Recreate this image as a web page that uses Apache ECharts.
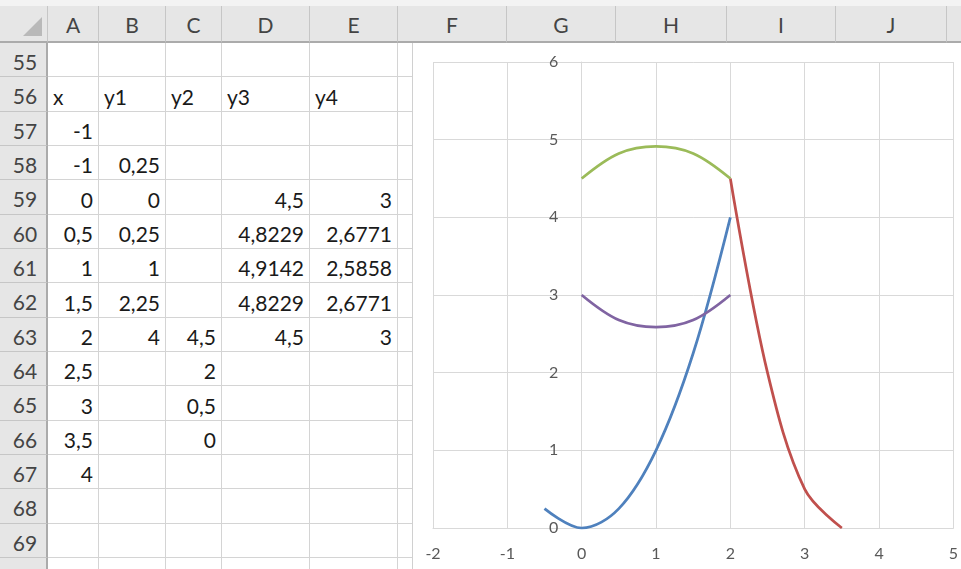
<!DOCTYPE html>
<html>
<head>
<meta charset="utf-8">
<script src="https://cdn.jsdelivr.net/npm/echarts@6/dist/echarts.min.js"></script>
<style>
  html, body { margin: 0; padding: 0; background: #fff; overflow: hidden; width: 961px; height: 569px; }
  #sheet { position: absolute; left: 0; top: 0; width: 961px; height: 569px; font-family: Lato, "Noto Sans", sans-serif; }
  .hdr { position: absolute; background: #e6e6e6; color: #444; font-size: 21px; text-align: center; box-sizing: border-box; }
  .cell { position: absolute; box-sizing: border-box; border-right: 1px solid #d4d4d4; border-bottom: 1px solid #d4d4d4; font-size: 21px; color: #1a1a1a; white-space: nowrap; overflow: visible; }
  #chart { position: absolute; left: 412px; top: 43px; width: 549px; height: 526px; background: #fff; border-left: 1px solid #d0d0d0; box-sizing: border-box; }
</style>
</head>
<body>
<div id="sheet"></div>
<div id="chart"></div>
<script>
// ---- chart data ----
const x1 = [-0.5, 0, 0.5, 1, 1.5, 2];
const y1 = [0.25, 0, 0.25, 1, 2.25, 4];
const x2 = [2, 2.5, 3, 3.5];
const y2 = [4.5, 2, 0.5, 0];
const x34 = [0, 0.5, 1, 1.5, 2];
const y3 = [4.5, 4.8229, 4.9142, 4.8229, 4.5];
const y4 = [3, 2.6771, 2.5858, 2.6771, 3];
const xTicks = [-2, -1, 0, 1, 2, 3, 4, 5];
const yTicks = [0, 1, 2, 3, 4, 5, 6];

// ---- spreadsheet text (as displayed) ----
const colLetters = ['A', 'B', 'C', 'D', 'E', 'F', 'G', 'H', 'I', 'J', 'K'];
const rowNumbers = [55, 56, 57, 58, 59, 60, 61, 62, 63, 64, 65, 66, 67, 68, 69, 70];
const colX = ['', 'x', '-1', '-1', '0', '0,5', '1', '1,5', '2', '2,5', '3', '3,5', '4', '', '', ''];
const colY1 = ['', 'y1', '', '0,25', '0', '0,25', '1', '2,25', '4', '', '', '', '', '', '', ''];
const colY2 = ['', 'y2', '', '', '', '', '', '', '4,5', '2', '0,5', '0', '', '', '', ''];
const colY3 = ['', 'y3', '', '', '4,5', '4,8229', '4,9142', '4,8229', '4,5', '', '', '', '', '', '', ''];
const colY4 = ['', 'y4', '', '', '3', '2,6771', '2,5858', '2,6771', '3', '', '', '', '', '', '', ''];

// ---- build spreadsheet ----
const sheet = document.getElementById('sheet');
const colEdges = [48, 99, 166, 222, 310, 398, 507, 616, 727, 836, 947, 1058];
const rowTop = 43, rowH = 34.33, hdrTop = 6;
function el(cls, style, text) {
  const d = document.createElement('div');
  d.className = cls;
  Object.assign(d.style, style);
  if (text !== undefined) d.textContent = text;
  sheet.appendChild(d);
  return d;
}
el('', {position:'absolute', left:'0px', top:'0px', width:'961px', height:hdrTop+'px', background:'#f3f3f3'});
el('hdr', {left:'0px', top:hdrTop+'px', width:'48px', height:(rowTop-hdrTop)+'px', borderRight:'1px solid #c6c6c6', borderBottom:'2px solid #ababab'});
el('', {position:'absolute', left:'23px', top:'17px', width:'0', height:'0', borderLeft:'19px solid transparent', borderBottom:'19px solid #b9b9b9'});
for (let c = 0; c < colLetters.length; c++) {
  const l = colEdges[c], r = colEdges[c + 1];
  el('hdr', {left:l+'px', top:hdrTop+'px', width:(r-l)+'px', height:(rowTop-hdrTop)+'px', lineHeight:(rowTop-hdrTop)+'px',
    borderRight:'1px solid #c6c6c6', borderBottom:'2px solid #ababab'}, colLetters[c]);
}
const cols = [colX, colY1, colY2, colY3, colY4];
for (let i = 0; i < rowNumbers.length; i++) {
  const t = Math.round(rowTop + i * rowH), b = Math.round(rowTop + (i + 1) * rowH);
  el('hdr', {left:'0px', top:t+'px', width:'48px', height:(b-t)+'px', lineHeight:(b-t+3)+'px',
    borderRight:'2px solid #ababab', borderBottom:'1px solid #c6c6c6', background:'#e6e6e6', paddingLeft:'4px'}, String(rowNumbers[i]));
  for (let c = 0; c < colLetters.length; c++) {
    const l = colEdges[c], r = colEdges[c + 1];
    const txt = c < cols.length ? cols[c][i] : '';
    const isNum = txt !== '' && !/^[xy]/.test(txt);
    el('cell', {left:l+'px', top:t+'px', width:(r-l)+'px', height:(b-t)+'px', lineHeight:(b-t+4)+'px',
      textAlign: isNum ? 'right' : 'left', paddingRight:'5px', paddingLeft:'5px'}, txt);
  }
}

// ---- chart ----
const chart = echarts.init(document.getElementById('chart'), null, {renderer: 'canvas'});
const pairs = (xs, ys) => xs.map((x, i) => [x, ys[i]]);
const lineStyle = (c) => ({color: c, width: 2.75});
const labelStyle = {color: '#595959', fontSize: 16, fontFamily: 'Lato'};
const SMOOTH = 0.35;
const GRID_LEFT = 20;
chart.setOption({
  animation: false,
  backgroundColor: '#fff',
  grid: {left: GRID_LEFT, top: 19, width: 523, height: 466, containLabel: false},
  xAxis: {
    type: 'value', min: xTicks[0], max: xTicks[xTicks.length - 1], interval: 1,
    axisLine: {show: true, onZero: false, lineStyle: {color: '#d9d9d9'}},
    axisTick: {show: false},
    axisLabel: Object.assign({margin: 18}, labelStyle),
    splitLine: {show: true, lineStyle: {color: '#d9d9d9', width: 1}}
  },
  yAxis: {
    type: 'value', min: yTicks[0], max: yTicks[yTicks.length - 1], interval: 1,
    axisLine: {show: true, onZero: true, lineStyle: {color: '#d9d9d9'}},
    axisTick: {show: false},
    axisLabel: Object.assign({margin: 20}, labelStyle),
    splitLine: {show: true, lineStyle: {color: '#d9d9d9', width: 1}}
  },
  series: [
    {name: 'y1', type: 'line', data: pairs(x1, y1), smooth: SMOOTH, showSymbol: false, lineStyle: lineStyle('#4f81bd'), itemStyle: {color: '#4f81bd'}},
    {name: 'y2', type: 'line', data: pairs(x2, y2), smooth: SMOOTH, showSymbol: false, lineStyle: lineStyle('#c0504d'), itemStyle: {color: '#c0504d'}},
    {name: 'y3', type: 'line', data: pairs(x34, y3), smooth: SMOOTH, showSymbol: false, lineStyle: lineStyle('#9bbb59'), itemStyle: {color: '#9bbb59'}},
    {name: 'y4', type: 'line', data: pairs(x34, y4), smooth: SMOOTH, showSymbol: false, lineStyle: lineStyle('#8064a2'), itemStyle: {color: '#8064a2'}}
  ]
});
// Excel places the vertical axis where x = 0: move the y axis there using the x scale
const zeroPx = chart.convertToPixel({xAxisIndex: 0}, 0);
const leftPx = chart.convertToPixel({xAxisIndex: 0}, xTicks[0]);
chart.setOption({yAxis: {offset: -(zeroPx - leftPx)}});
</script>
</body>
</html>
